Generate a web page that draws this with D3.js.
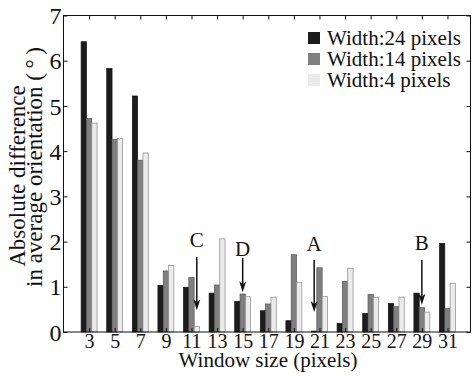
<!DOCTYPE html>
<html>
<head>
<meta charset="utf-8">
<script src="https://cdn.jsdelivr.net/npm/d3@7"></script>
<style>
  html, body { margin: 0; padding: 0; background: #fff; }
  svg text { font-family: 'Liberation Serif', 'Times New Roman', serif; }
</style>
</head>
<body>
<div id="chart"></div>
<script>
const windowSizes = [3, 5, 7, 9, 11, 13, 15, 17, 19, 21, 23, 25, 27, 29, 31];
const width24 = [6.42, 5.83, 5.22, 1.03, 0.99, 0.86, 0.68, 0.47, 0.25, 0.02, 0.19, 0.41, 0.63, 0.86, 1.96];
const width14 = [4.72, 4.26, 3.80, 1.35, 1.21, 1.04, 0.84, 0.62, 1.71, 1.42, 1.12, 0.83, 0.56, 0.54, 0.52];
const width4 = [4.62, 4.28, 3.96, 1.47, 0.12, 2.06, 0.78, 0.77, 1.10, 0.79, 1.41, 0.77, 0.77, 0.44, 1.08];
const seriesNames = ['Width:24 pixels', 'Width:14 pixels', 'Width:4 pixels'];
const yTicks = [0, 1, 2, 3, 4, 5, 6, 7];
// arrow annotations: window size, series index, label / tail / tip heights
const notes = [
  { label: 'C', win: 11, s: 2, text: 2.05, tail: 1.66, tip: 0.48 },
  { label: 'D', win: 15, s: 1, text: 1.85, tail: 1.64, tip: 0.88 },
  { label: 'A', win: 21, s: 0, text: 1.95, tail: 1.59, tip: 0.44 },
  { label: 'B', win: 29, s: 1, text: 1.97, tail: 1.59, tip: 0.60 }
];

const W = 472, H = 376;
const FONT = "'Liberation Serif', 'Times New Roman', serif";
const fills = ['#1c1c1c', '#808080', '#ebebeb'];
const strokes = ['#111', '#555', '#8a8a8a'];

const svg = d3.select('#chart').append('svg')
  .attr('width', W)
  .attr('height', H)
  .attr('font-family', FONT);

const x = d3.scaleLinear().domain([1, 32.8]).range([63.5, 470.5]);
const y = d3.scaleLinear().domain([0, 7]).range([332, 15.5]);
const barW = x(1.415) - x(1);

const series = [width24, width14, width4];

// Bars
series.forEach((vals, si) => {
  svg.append('g')
    .selectAll('rect')
    .data(windowSizes)
    .join('rect')
    .attr('x', (d) => x(d) + (si - 1.5) * barW)
    .attr('y', (d, i) => y(vals[i]))
    .attr('width', barW)
    .attr('height', (d, i) => y(0) - y(vals[i]))
    .attr('fill', fills[si])
    .attr('stroke', strokes[si])
    .attr('stroke-width', 0.7);
});

// Axes (MATLAB style box with inward ticks)
const tick = 4;
const fixFont = (g) => g.attr('font-family', FONT).attr('font-size', null);

svg.append('g')
  .attr('transform', `translate(0,${y(0)})`)
  .call(d3.axisBottom(x).tickValues(windowSizes).tickSizeInner(-tick).tickSizeOuter(0).tickFormat(d3.format('d')))
  .call(fixFont)
  .call((g) => g.select('.domain').remove())
  .call((g) => g.selectAll('text').attr('font-size', 20).attr('fill', '#111').attr('dy', null).attr('y', 16));

svg.append('g')
  .attr('transform', `translate(0,${y(7)})`)
  .call(d3.axisTop(x).tickValues(windowSizes).tickSizeInner(-tick).tickSizeOuter(0).tickFormat(''))
  .call((g) => g.select('.domain').remove());

svg.append('g')
  .attr('transform', `translate(${x.range()[0]},0)`)
  .call(d3.axisLeft(y).tickValues(yTicks).tickSizeInner(-tick).tickSizeOuter(0).tickFormat(d3.format('d')))
  .call(fixFont)
  .call((g) => g.select('.domain').remove())
  .call((g) => g.selectAll('text').attr('font-size', 24).attr('fill', '#111').attr('x', -2).attr('dy', '0.34em'));

svg.append('g')
  .attr('transform', `translate(${x.range()[1]},0)`)
  .call(d3.axisRight(y).tickValues(yTicks).tickSizeInner(-tick).tickSizeOuter(0).tickFormat(''))
  .call((g) => g.select('.domain').remove());

svg.append('rect')
  .attr('x', x.range()[0])
  .attr('y', y(7))
  .attr('width', x.range()[1] - x.range()[0])
  .attr('height', y(0) - y(7))
  .attr('fill', 'none')
  .attr('stroke', '#111')
  .attr('stroke-width', 1);

svg.selectAll('.tick line').attr('stroke', '#111');

// Axis titles
svg.append('text')
  .attr('x', 268)
  .attr('y', 367)
  .attr('text-anchor', 'middle')
  .attr('font-size', 21)
  .attr('fill', '#111')
  .text('Window size (pixels)');

const yTitle = svg.append('text')
  .attr('transform', 'translate(25,176) rotate(-90)')
  .attr('text-anchor', 'middle')
  .attr('font-size', 23)
  .attr('fill', '#111');
yTitle.append('tspan').attr('x', 0).attr('y', 0).text('Absolute difference');
yTitle.append('tspan').attr('x', 9).attr('y', 17).text('in average orientation (\u2009\u00b0\u2009)');

// Legend
const legend = svg.append('g').attr('transform', 'translate(308,32)');
legend.selectAll('rect')
  .data(seriesNames)
  .join('rect')
  .attr('x', 0)
  .attr('y', (d, i) => i * 21)
  .attr('width', 12)
  .attr('height', 12)
  .attr('fill', (d, i) => fills[i]);
legend.selectAll('text')
  .data(seriesNames)
  .join('text')
  .attr('x', 19)
  .attr('y', (d, i) => i * 21 + 13)
  .attr('font-size', 21)
  .attr('fill', '#111')
  .text((d) => d);

// Arrows
const ax = (n) => x(n.win) + (n.s - 1) * barW;
svg.append('g')
  .selectAll('line')
  .data(notes)
  .join('line')
  .attr('x1', ax)
  .attr('x2', ax)
  .attr('y1', (d) => y(d.tail))
  .attr('y2', (d) => y(d.tip) - 8)
  .attr('stroke', '#111')
  .attr('stroke-width', 1.5);
svg.append('g')
  .selectAll('path')
  .data(notes)
  .join('path')
  .attr('d', (d) => {
    const cx = ax(d), ty = y(d.tip);
    return `M${cx},${ty}L${cx - 3.5},${ty - 11}L${cx},${ty - 8}L${cx + 3.5},${ty - 11}Z`;
  })
  .attr('fill', '#111');
svg.append('g')
  .selectAll('text')
  .data(notes)
  .join('text')
  .attr('x', ax)
  .attr('y', (d) => y(d.text))
  .attr('dy', '0.35em')
  .attr('text-anchor', 'middle')
  .attr('font-size', 21)
  .attr('fill', '#111')
  .text((d) => d.label);
</script>
</body>
</html>
